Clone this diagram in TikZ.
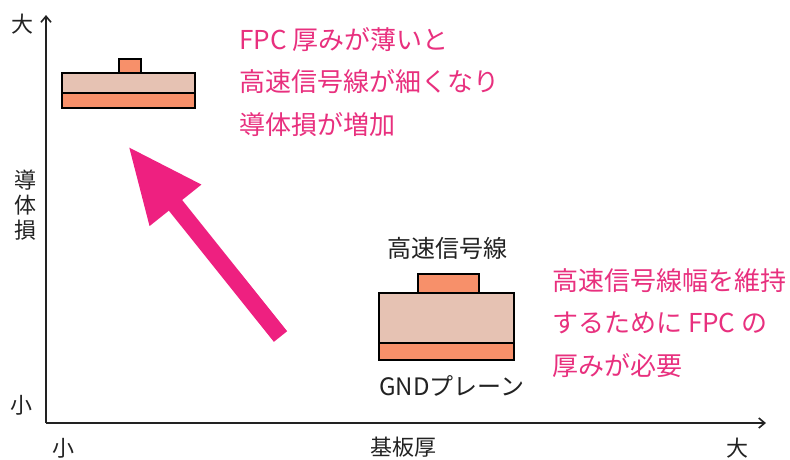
\documentclass[tikz,border=0pt]{standalone}
\usepackage{fontspec}
\setmainfont{Noto Sans CJK JP}
\usetikzlibrary{arrows.meta}
\definecolor{pk}{HTML}{EE2080}
\definecolor{pktext}{HTML}{E8307E}
\definecolor{cu}{HTML}{F7906A}
\definecolor{diel}{HTML}{E6C2B3}
\definecolor{ax}{HTML}{222222}
\tikzset{
  axis/.style={line width=2.4pt, draw=ax, -{Straight Barb[length=6pt,width=10pt,line width=1.6pt]}},
  axlabel/.style={text=ax, font=\fontsize{22}{25}\selectfont, inner sep=0pt},
  blabel/.style={text=ax, font=\fontsize{24}{26}\selectfont, inner sep=0pt},
  note/.style={text=pktext, font=\fontsize{26}{42.5}\selectfont, inner sep=0pt, align=left, anchor=north west},
  copper/.style={fill=cu, draw=black, line width=2pt},
  dielec/.style={fill=diel, draw=black, line width=2pt},
  bigarrow/.style={draw=pk, line width=17pt, -{Triangle[length=76pt,width=61pt]}}
}
\begin{document}
\begin{tikzpicture}[x=1pt,y=-1pt]
\useasboundingbox (0,0) rectangle (790,459);
% axes
\coordinate (O) at (46,423);
\coordinate (Ytop) at (46,15);
\coordinate (Xend) at (766,423);
\draw[axis] (O) -- (Ytop);
\draw[axis] (O) -- (Xend);
\node[axlabel] (ybig) at (22,24) {大};
\node[axlabel] (ysmall) at (21,405) {小};
\node[axlabel] (y1) at (25,180) {導};
\node[axlabel] (y2) at (25,205) {体};
\node[axlabel] (y3) at (25,230) {損};
\node[axlabel] (xsmall) at (63,448) {小};
\node[axlabel] (xname) at (403,447) {基板厚};
\node[axlabel] (xbig) at (737,448) {大};
% thin stack
\path[dielec] (62,73) rectangle (195,93);
\path[copper] (62,93) rectangle (195,108);
\path[copper] (119,59) rectangle (141,73);
% thick stack
\path[dielec] (379,293) rectangle (514,343);
\path[copper] (379,343) rectangle (514,360);
\path[copper] (418,274) rectangle (479,293);
\node[blabel] (sig) at (447,248) {高速信号線};
\node[blabel] (gnd) at (452,386) {GNDプレーン};
% notes
\node[note] (n1) at (239,27) {FPC 厚みが薄いと\\高速信号線が細くなり\\導体損が増加};
\node[note] (n2) at (552,268) {高速信号線幅を維持\\するために FPC の\\厚みが必要};
% big arrow
\coordinate (as) at (280.5,336.5);
\coordinate (at) at (128,146);
\draw[bigarrow] (as) -- (at);
\end{tikzpicture}
\end{document}
